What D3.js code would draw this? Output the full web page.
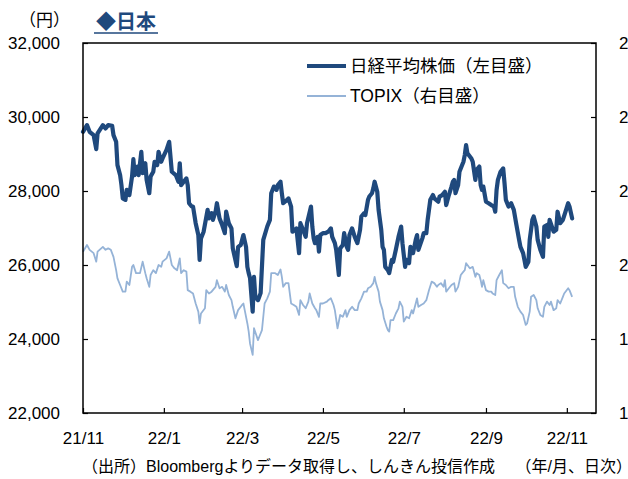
<!DOCTYPE html>
<html>
<head>
<meta charset="utf-8">
<script src="https://cdn.jsdelivr.net/npm/d3@7"></script>
<style>
  body { margin: 0; background: #fff; }
  text { font-family: "Liberation Sans", "Noto Sans CJK JP", sans-serif; fill: #000; }
</style>
</head>
<body>
<svg id="chart" width="628" height="479"></svg>
<script>
// days counted from 2021-11-01
const startDate = new Date(2021, 10, 1)
const endDate = new Date(2022, 10, 23)

const nikkeiDays = [
  0, 3, 5, 8, 10, 11, 15, 17, 19, 22,
  23, 25, 26, 28, 29, 30, 32, 33, 35, 37,
  38, 39, 41, 42, 44, 45, 47, 48, 50, 51,
  53, 54, 56, 57, 59, 60, 63, 65, 67, 70,
  72, 73, 74, 76, 78, 79, 80, 82, 83, 85,
  87, 88, 89, 91, 94, 95, 97, 98, 100, 101,
  103, 105, 107, 108, 110, 112, 113, 116, 117, 119,
  121, 123, 124, 125, 126, 128, 129, 130, 132, 134,
  136, 139, 141, 142, 144, 146, 147, 149, 150, 151,
  154, 155, 157, 158, 160, 161, 163, 164, 166, 168,
  169, 172, 173, 174, 175, 177, 178, 179, 181, 183,
  185, 187, 188, 190, 191, 193, 194, 196, 197, 199,
  200, 201, 203, 205, 207, 209, 210, 212, 213, 215,
  216, 218, 219, 220, 222, 223, 225, 226, 227, 228,
  230, 231, 233, 234, 236, 238, 240, 241, 243, 244,
  246, 247, 249, 251, 252, 253, 256, 257, 259, 260,
  262, 264, 265, 268, 269, 271, 273, 274, 276, 278,
  279, 280, 281, 283, 284, 287, 288, 289, 290, 293,
  294, 296, 297, 299, 300, 301, 302, 304, 306, 308,
  310, 311, 312, 313, 315, 317, 318, 319, 321, 323,
  325, 327, 329, 330, 332, 333, 334, 336, 337, 339,
  340, 342, 343, 345, 347, 348, 350, 351, 352, 355,
  357, 358, 360, 362, 364, 366, 367, 369
]
const nikkeiValues = [
  29600, 29780, 29600, 29510, 29130, 29560, 29780, 29690, 29780, 29760,
  29510, 29330, 28700, 28430, 28160, 27800, 27760, 28030, 27890, 28390,
  28860, 28430, 28660, 28430, 29060, 28480, 28750, 28300, 27940, 28390,
  28520, 28790, 28700, 29060, 28790, 28880, 29110, 29330, 28520, 28430,
  28250, 28750, 28160, 28250, 28340, 28160, 27670, 27580, 27580, 27130,
  26810, 26140, 26720, 26900, 27490, 27260, 27400, 27220, 27440, 27670,
  27260, 27080, 26860, 27440, 27130, 26990, 26450, 25970, 26490, 26540,
  26810, 26490, 25950, 25780, 25650, 24740, 25680, 25140, 25050, 25240,
  26680, 27040, 27220, 27940, 28120, 28030, 28160, 28250, 27940, 27670,
  27760, 27800, 27580, 26900, 26950, 26990, 26320, 27130, 26950, 26760,
  27130, 27580, 27040, 26720, 26590, 26760, 26360, 26810, 26860, 26860,
  26900, 26990, 26760, 26590, 26410, 25730, 26450, 26540, 26860, 26490,
  26410, 26810, 26990, 26760, 26590, 26950, 27310, 27400, 27350, 27760,
  27850, 27940, 28070, 28250, 27980, 27490, 26950, 26490, 26410, 25950,
  25860, 25780, 26140, 26090, 26410, 26760, 27040, 26590, 25950, 26140,
  26050, 26490, 26320, 26680, 26810, 26410, 26720, 26860, 26860, 27220,
  27760, 27890, 27800, 27710, 27850, 27890, 27980, 27620, 27890, 28120,
  28250, 28300, 27940, 28160, 28520, 28790, 28970, 29240, 29020, 28880,
  28790, 28300, 28570, 28660, 28160, 28030, 28120, 27710, 27670, 27620,
  27580, 27440, 28030, 28300, 28520, 28610, 28210, 27760, 27580, 27670,
  27490, 27080, 26680, 26490, 26320, 26140, 25950, 26090, 26680, 27220,
  27310, 27040, 26680, 26410, 26220, 27040, 27080, 26760, 27220, 26900,
  26950, 27440, 27130, 27220, 27440, 27670, 27580, 27260
]

const topixDays = [
  0, 3, 5, 8, 10, 11, 15, 17, 19, 21,
  23, 25, 26, 28, 30, 32, 33, 35, 37, 38,
  40, 42, 43, 45, 47, 48, 50, 51, 53, 55,
  57, 59, 60, 63, 65, 67, 69, 71, 73, 74,
  76, 78, 79, 81, 83, 85, 87, 88, 89, 92,
  93, 95, 97, 100, 101, 103, 105, 107, 108, 110,
  112, 113, 115, 117, 120, 121, 122, 124, 125, 126,
  128, 129, 132, 133, 135, 137, 139, 141, 142, 145,
  147, 149, 150, 151, 153, 155, 157, 159, 161, 163,
  164, 166, 168, 170, 171, 173, 175, 176, 178, 179,
  181, 184, 185, 187, 189, 190, 192, 194, 196, 198,
  199, 201, 203, 205, 207, 208, 210, 212, 214, 215,
  217, 219, 220, 221, 223, 224, 226, 227, 229, 230,
  231, 232, 234, 236, 238, 239, 241, 242, 244, 246,
  248, 249, 251, 252, 253, 255, 257, 259, 261, 263,
  265, 267, 268, 270, 272, 273, 274, 276, 278, 280,
  281, 283, 285, 287, 288, 289, 291, 292, 294, 296,
  297, 299, 300, 301, 302, 304, 306, 308, 309, 311,
  312, 314, 316, 317, 319, 321, 323, 325, 326, 328,
  330, 332, 333, 334, 335, 337, 338, 340, 342, 343,
  345, 347, 348, 350, 352, 353, 355, 357, 358, 360,
  362, 363, 366, 367, 369
]
const topixValues = [
  2036, 2054, 2041, 2032, 2009, 2036, 2049, 2041, 2045, 2041,
  2022, 1986, 1964, 1946, 1928, 1928, 1955, 1946, 1995, 2000,
  1978, 1978, 1978, 2009, 1978, 1964, 1941, 1973, 1986, 1978,
  2000, 1995, 2009, 2018, 2036, 2000, 1991, 1986, 2018, 1978,
  1986, 1982, 1932, 1928, 1923, 1896, 1874, 1842, 1869, 1883,
  1932, 1923, 1928, 1941, 1959, 1937, 1941, 1928, 1946, 1919,
  1905, 1887, 1856, 1878, 1892, 1896, 1878, 1842, 1820, 1788,
  1757, 1829, 1797, 1806, 1824, 1896, 1910, 1928, 1978, 1978,
  1973, 1988, 1968, 1941, 1951, 1951, 1896, 1892, 1887, 1865,
  1905, 1892, 1883, 1901, 1923, 1896, 1883, 1878, 1860, 1896,
  1896, 1901, 1905, 1910, 1892, 1878, 1829, 1865, 1860, 1878,
  1860, 1878, 1887, 1878, 1878, 1896, 1910, 1928, 1928, 1937,
  1941, 1951, 1968, 1951, 1928, 1901, 1878, 1856, 1833, 1824,
  1820, 1851, 1851, 1869, 1883, 1901, 1887, 1847, 1860, 1856,
  1878, 1869, 1896, 1910, 1887, 1892, 1896, 1905, 1932, 1955,
  1951, 1941, 1946, 1951, 1941, 1959, 1928, 1937, 1946, 1951,
  1928, 1941, 1973, 1982, 1986, 2005, 1995, 1991, 1995, 1968,
  1978, 1973, 1959, 1941, 1959, 1932, 1928, 1928, 1923, 1919,
  1959, 1973, 1986, 1951, 1946, 1937, 1941, 1941, 1914, 1887,
  1874, 1865, 1851, 1838, 1842, 1874, 1914, 1919, 1905, 1883,
  1865, 1860, 1887, 1901, 1892, 1901, 1878, 1883, 1905, 1896,
  1914, 1923, 1937, 1932, 1914
]

const xTickDates = ['2021-11-01', '2022-01-01', '2022-03-01', '2022-05-01', '2022-07-01', '2022-09-01', '2022-11-01']
const xTickLabels = ['21/11', '22/1', '22/3', '22/5', '22/7', '22/9', '22/11']
const leftTicks = [22000, 24000, 26000, 28000, 30000, 32000]
const rightTicks = [1600, 1800, 2000, 2200, 2400, 2600]

const nikkeiColor = '#1f497d'
const topixColor = '#95b3d7'

const margin = { top: 43, left: 83, right: 32, bottom: 66 }
const width = 628 - margin.left - margin.right
const height = 479 - margin.top - margin.bottom

const svg = d3.select('#chart')
const g = svg
  .append('g')
  .attr('transform', 'translate(' + margin.left + ',' + margin.top + ')')

const parseDate = d3.timeParse('%Y-%m-%d')

const xPositionScale = d3
  .scaleTime()
  .domain([startDate, endDate])
  .range([0, width])

const yLeftScale = d3
  .scaleLinear()
  .domain([22000, 32000])
  .range([height, 0])

const yRightScale = d3
  .scaleLinear()
  .domain([1600, 2600])
  .range([height, 0])

const nikkei = nikkeiDays.map((d, i) => ({ date: d3.timeDay.offset(startDate, d), value: nikkeiValues[i] }))
const topix = topixDays.map((d, i) => ({ date: d3.timeDay.offset(startDate, d), value: topixValues[i] }))

const nikkeiLine = d3
  .line()
  .x(d => xPositionScale(d.date))
  .y(d => yLeftScale(d.value))

const topixLine = d3
  .line()
  .x(d => xPositionScale(d.date))
  .y(d => yRightScale(d.value))

g.append('path')
  .datum(topix)
  .attr('d', topixLine)
  .attr('fill', 'none')
  .attr('stroke', topixColor)
  .attr('stroke-width', 1.8)
  .attr('stroke-linejoin', 'round')

g.append('path')
  .datum(nikkei)
  .attr('d', nikkeiLine)
  .attr('fill', 'none')
  .attr('stroke', nikkeiColor)
  .attr('stroke-width', 4.2)
  .attr('stroke-linejoin', 'round')
  .attr('stroke-linecap', 'round')

// axes
const xAxis = d3
  .axisBottom(xPositionScale)
  .tickValues(xTickDates.map(parseDate))
  .tickFormat((d, i) => xTickLabels[i])
  .tickSizeInner(-5)
  .tickSizeOuter(0)
  .tickPadding(19)
g.append('g')
  .attr('class', 'axis x-axis')
  .attr('transform', 'translate(0,' + height + ')')
  .call(xAxis)

const yAxisLeft = d3
  .axisLeft(yLeftScale)
  .tickValues(leftTicks)
  .tickFormat(d3.format(','))
  .tickSizeInner(-5)
  .tickSizeOuter(0)
  .tickPadding(23)
g.append('g')
  .attr('class', 'axis y-axis')
  .call(yAxisLeft)

// right axis: the reference crops these labels at the page edge
const yAxisRight = d3
  .axisRight(yRightScale)
  .tickValues(rightTicks)
  .tickFormat(d3.format(','))
  .tickSizeInner(-5)
  .tickSizeOuter(0)
  .tickPadding(23)
g.append('g')
  .attr('class', 'axis y-axis-right')
  .attr('transform', 'translate(' + width + ',0)')
  .call(yAxisRight)

svg.selectAll('.axis .domain').remove()
svg.selectAll('.axis line').attr('stroke', '#000').attr('stroke-width', 1.2)
svg.selectAll('.axis text').attr('font-size', 17).attr('fill', '#000')

// plot frame
g.append('rect')
  .attr('width', width)
  .attr('height', height)
  .attr('fill', 'none')
  .attr('stroke', '#000')
  .attr('stroke-width', 1.5)

// legend
const legend = [
  { label: '日経平均株価（左目盛）', color: nikkeiColor, w: 4.2, y: 66 },
  { label: 'TOPIX（右目盛）', color: topixColor, w: 1.8, y: 96 }
]
legend.forEach(d => {
  svg.append('line')
    .attr('x1', 307).attr('x2', 346)
    .attr('y1', d.y).attr('y2', d.y)
    .attr('stroke', d.color)
    .attr('stroke-width', d.w)
  svg.append('text')
    .attr('x', 350)
    .attr('y', d.y)
    .attr('dy', '0.35em')
    .attr('font-size', 17.5)
    .text(d.label)
})

// title and units
const title = svg.append('text')
  .attr('x', 96)
  .attr('y', 29)
  .attr('font-size', 20)
  .attr('font-weight', 'bold')
  .style('fill', nikkeiColor)
  .text('◆日本')
const tw = title.node().getComputedTextLength()
svg.append('line')
  .attr('x1', 94).attr('x2', 96 + tw + 2)
  .attr('y1', 33).attr('y2', 33)
  .attr('stroke', nikkeiColor)
  .attr('stroke-width', 1.5)

svg.append('text')
  .attr('x', 70)
  .attr('y', 20)
  .attr('dy', '0.35em')
  .attr('text-anchor', 'end')
  .attr('font-size', 17)
  .text('（円）')

svg.append('text')
  .attr('x', 82)
  .attr('y', 472)
  .attr('font-size', 16)
  .text('（出所）Bloombergよりデータ取得し、しんきん投信作成')

svg.append('text')
  .attr('x', 632)
  .attr('y', 472)
  .attr('text-anchor', 'end')
  .attr('font-size', 16)
  .text('（年/月、日次）')
</script>
</body>
</html>
